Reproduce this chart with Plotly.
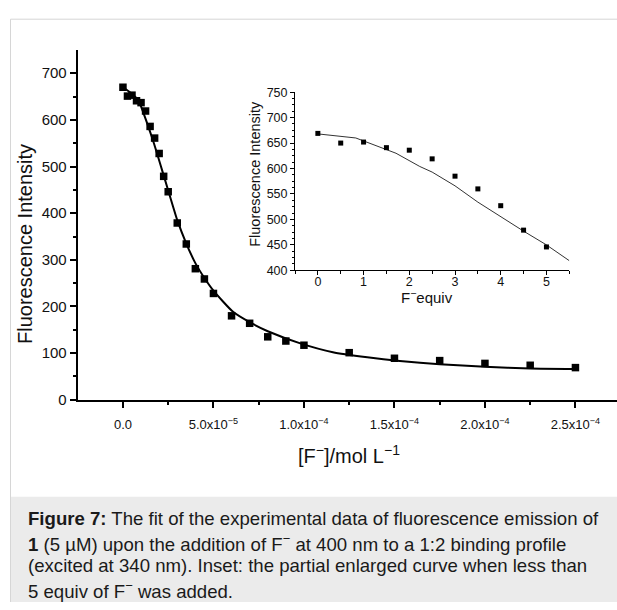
import plotly.graph_objects as go

W, H = 617, 610


def fx(p):
    return p / W


def fy(p):
    return 1 - p / H


# ---------------- data ----------------
main_conc = [0, 2.5e-6, 5e-6, 7.5e-6, 1e-5, 1.25e-5, 1.5e-5, 1.75e-5, 2e-5, 2.25e-5,
             2.5e-5, 3e-5, 3.5e-5, 4e-5, 4.5e-5, 5e-5, 6e-5, 7e-5, 8e-5, 9e-5,
             1e-4, 1.25e-4, 1.5e-4, 1.75e-4, 2e-4, 2.25e-4, 2.5e-4]
main_intensity = [670, 651, 653, 641, 637, 619, 586, 561, 528, 479,
                  446, 379, 334, 281, 259, 228, 180, 164, 135, 126,
                  117, 101, 89, 84, 78, 74, 69]

fit_conc = [0, 5e-6, 8.6e-6, 1.14e-5, 1.7e-5, 2.25e-5, 2.8e-5, 3.0e-5, 3.5e-5, 4.0e-5,
            4.5e-5, 5.0e-5, 6.1e-5, 7.2e-5, 8.0e-5, 9.8e-5, 1.16e-4, 1.35e-4, 1.53e-4,
            1.75e-4, 2.0e-4, 2.25e-4, 2.5e-4]
fit_intensity = [670, 656, 641, 614, 551, 481, 410, 385, 335, 293,
                 261, 234, 188, 162, 147, 121, 102, 91, 83,
                 76, 71, 67, 66]

inset_equiv = [0, 0.5, 1, 1.5, 2, 2.5, 3, 3.5, 4, 4.5, 5]
inset_intensity = [669, 650, 652, 641, 636, 619, 585, 560, 527, 479, 446]

inset_fit_equiv = [0, 0.83, 1.71, 2.23, 2.5, 3, 3.5, 4, 4.5, 5, 5.5]
inset_fit_intensity = [668, 660, 630, 604, 593, 566, 534, 505, 477, 450, 419]

main_xtick_vals = [0, 5e-5, 1e-4, 1.5e-4, 2e-4, 2.5e-4]
main_xtick_text = ["0.0", "5.0x10<sup>−5</sup>", "1.0x10<sup>−4</sup>", "1.5x10<sup>−4</sup>",
                   "2.0x10<sup>−4</sup>", "2.5x10<sup>−4</sup>"]
main_ytick_vals = [0, 100, 200, 300, 400, 500, 600, 700]
inset_xtick_vals = [0, 1, 2, 3, 4, 5]
inset_ytick_vals = [400, 450, 500, 550, 600, 650, 700, 750]

caption_lines = [
    "<b>Figure 7:</b> The fit of the experimental data of fluorescence emission of",
    "<b>1</b> (5 µM) upon the addition of F<sup>−</sup> at 400 nm to a 1:2 binding profile",
    "(excited at 340 nm). Inset: the partial enlarged curve when less than",
    "5 equiv of F<sup>−</sup> was added.",
]

FONT = "Liberation Sans, Arial, sans-serif"

fig = go.Figure()

# main fit line
fig.add_trace(go.Scatter(x=fit_conc, y=fit_intensity, mode="lines",
                         line=dict(color="black", width=2, shape="spline", smoothing=0.6),
                         xaxis="x", yaxis="y", hoverinfo="skip"))
# main data
fig.add_trace(go.Scatter(x=main_conc, y=main_intensity, mode="markers",
                         marker=dict(symbol="square", size=7.5, color="black"),
                         xaxis="x", yaxis="y", cliponaxis=False))
# inset fit line
fig.add_trace(go.Scatter(x=inset_fit_equiv, y=inset_fit_intensity, mode="lines",
                         line=dict(color="#333333", width=1),
                         xaxis="x2", yaxis="y2", hoverinfo="skip"))
# inset data
fig.add_trace(go.Scatter(x=inset_equiv, y=inset_intensity, mode="markers",
                         marker=dict(symbol="square", size=5, color="black"),
                         xaxis="x2", yaxis="y2", cliponaxis=False))

axis_common = dict(showgrid=False, zeroline=False, showline=True, linecolor="black",
                   tickcolor="black", ticks="outside")

fig.update_layout(
    width=W, height=H,
    margin=dict(l=0, r=0, t=0, b=0),
    paper_bgcolor="white", plot_bgcolor="rgba(0,0,0,0)",
    showlegend=False,
    font=dict(family=FONT, color="black"),
    xaxis=dict(**axis_common, domain=[fx(77.7), 1.0], range=[-2.5e-5, 2.7296e-4],
               anchor="y", linewidth=2, ticklen=6, tickwidth=2, ticklabelstandoff=6,
               tickmode="array", tickvals=main_xtick_vals, ticktext=main_xtick_text,
               tickfont=dict(size=13, color="#111111", family=FONT),
               minor=dict(ticks="outside", tickmode="array",
                          tickvals=[2.5e-5, 7.5e-5, 1.25e-4, 1.75e-4, 2.25e-4],
                          ticklen=3, tickwidth=2, tickcolor="black")),
    yaxis=dict(**axis_common, domain=[fy(402.7), fy(44)], range=[0, 750],
               anchor="x", linewidth=2, ticklen=6, tickwidth=2,
               tickmode="array", tickvals=main_ytick_vals,
               tickfont=dict(size=15, color="#111111", family=FONT),
               minor=dict(ticks="outside", tickmode="array",
                          tickvals=[50, 150, 250, 350, 450, 550, 650],
                          ticklen=3, tickwidth=2, tickcolor="black")),
    xaxis2=dict(**axis_common, domain=[fx(295), fx(569.3)], range=[-0.5, 5.5],
                anchor="y2", linewidth=1, ticklen=4, tickwidth=1, ticklabelstandoff=-4,
                tickmode="array", tickvals=inset_xtick_vals,
                tickfont=dict(size=12.5, color="#111111", family=FONT),
                minor=dict(ticks="outside", tickmode="array",
                           tickvals=[-0.5, 0.5, 1.5, 2.5, 3.5, 4.5, 5.5],
                           ticklen=3, tickwidth=1, tickcolor="black")),
    yaxis2=dict(**axis_common, domain=[fy(270), fy(87.3)], range=[400, 750],
                anchor="x2", linewidth=1, ticklen=4, tickwidth=1,
                tickmode="array", tickvals=inset_ytick_vals,
                tickfont=dict(size=12.5, color="#111111", family=FONT),
                minor=dict(ticks="outside", tickmode="array",
                           tickvals=[412.5, 425, 437.5, 462.5, 475, 487.5, 512.5, 525, 537.5,
                                     562.5, 575, 587.5, 612.5, 625, 637.5, 662.5, 675, 687.5,
                                     712.5, 725, 737.5],
                           ticklen=2, tickwidth=1, tickcolor="black")),
)

shapes = [
    # caption background
    dict(type="rect", xref="paper", yref="paper", x0=fx(11), x1=1.0, y0=0, y1=fy(502),
         fillcolor="#ebebeb", line=dict(width=0), layer="below"),
    # frame lines
    dict(type="line", xref="paper", yref="paper", x0=fx(10.5), x1=fx(10.5), y0=0, y1=fy(12.5),
         line=dict(color="#d6d6d6", width=1), layer="below"),
    dict(type="line", xref="paper", yref="paper", x0=fx(10.5), x1=1.0, y0=fy(12.5), y1=fy(12.5),
         line=dict(color="#d6d6d6", width=1), layer="below"),
]
fig.update_layout(shapes=shapes)

annotations = [
    dict(text="Fluorescence Intensity", x=fx(25), y=fy(243), xref="paper", yref="paper",
         textangle=-90, showarrow=False, xanchor="center", yanchor="middle",
         font=dict(size=20, color="#111111", family=FONT)),
    dict(text="[F<sup>−</sup>]/mol L<sup>−1</sup>", x=fx(349), y=fy(459), xref="paper", yref="paper",
         showarrow=False, xanchor="center", yanchor="middle",
         font=dict(size=20, color="#111111", family=FONT)),
    dict(text="Fluorescence Intensity", x=fx(255), y=fy(171), xref="paper", yref="paper",
         textangle=-90, showarrow=False, xanchor="center", yanchor="middle",
         font=dict(size=14.5, color="#111111", family=FONT)),
    dict(text="F<sup>−</sup>equiv", x=fx(427), y=fy(297), xref="paper", yref="paper",
         showarrow=False, xanchor="center", yanchor="middle",
         font=dict(size=15, color="#111111", family=FONT)),
]
line_y = [524, 549, 573, 598]
for txt, yy in zip(caption_lines, line_y):
    annotations.append(dict(text=txt, x=fx(26), y=fy(yy), xref="paper", yref="paper",
                            showarrow=False, xanchor="left", yanchor="middle", align="left",
                            font=dict(size=18.6, color="#1a1a1a", family=FONT)))
fig.update_layout(annotations=annotations)

fig.write_html("out.html", config={"displayModeBar": False},
               post_script="document.body.style.margin='0px';document.body.style.overflow='hidden';")
